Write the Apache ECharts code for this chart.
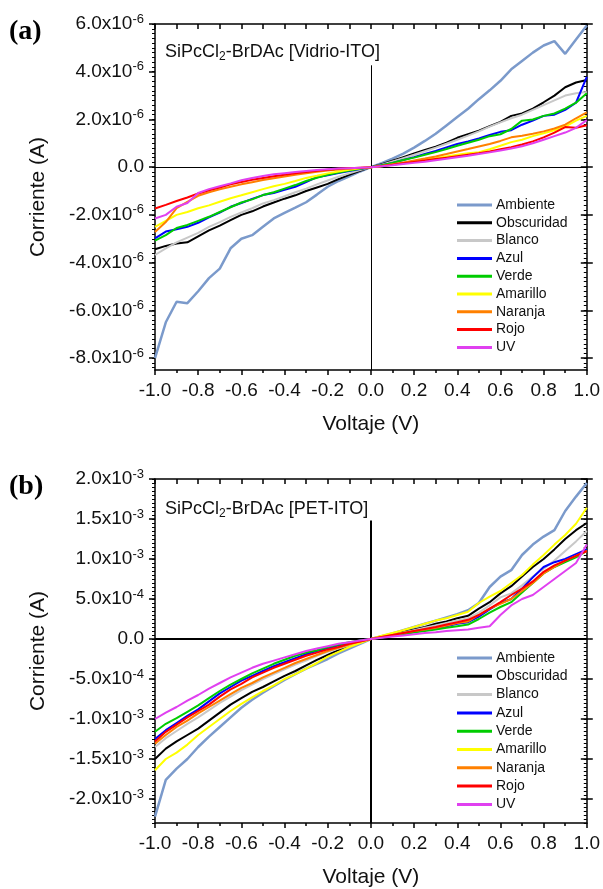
<!DOCTYPE html>
<html>
<head>
<meta charset="utf-8">
<script src="https://cdn.jsdelivr.net/npm/echarts@6/dist/echarts.min.js"></script>
<style>
  html, body { margin: 0; background: #fff; }
  #chart { width: 603px; height: 889px; }
</style>
</head>
<body>
<div id="chart"></div>
<script>
// voltaje (V)
const voltaje = [-1.0, -0.95, -0.9, -0.85, -0.8, -0.75, -0.7, -0.65, -0.6, -0.55, -0.5, -0.45, -0.4, -0.35, -0.3, -0.25, -0.2, -0.15, -0.1, -0.05,
  0, 0.05, 0.1, 0.15, 0.2, 0.25, 0.3, 0.35, 0.4, 0.45, 0.5, 0.55, 0.6, 0.65, 0.7, 0.75, 0.8, 0.85, 0.9, 0.95, 1.0];

// (a) Vidrio-ITO, corriente en unidades de 1e-6 A
const ambienteA = [-8.0, -6.5, -5.64, -5.7, -5.2, -4.65, -4.25, -3.4, -3.0, -2.85, -2.5, -2.15, -1.92, -1.7, -1.47, -1.15, -0.82, -0.58, -0.38, -0.18,
  0, 0.17, 0.36, 0.57, 0.82, 1.1, 1.4, 1.75, 2.1, 2.45, 2.85, 3.22, 3.62, 4.1, 4.45, 4.8, 5.1, 5.28, 4.75, 5.35, 5.94];
const obscuridadA = [-3.44, -3.3, -3.2, -3.15, -2.9, -2.65, -2.45, -2.22, -2.0, -1.85, -1.65, -1.48, -1.32, -1.18, -1.0, -0.85, -0.7, -0.5, -0.32, -0.15,
  0, 0.12, 0.27, 0.42, 0.57, 0.72, 0.86, 1.03, 1.23, 1.38, 1.53, 1.72, 1.9, 2.15, 2.25, 2.45, 2.72, 3.0, 3.35, 3.55, 3.65];
const blancoA = [-3.68, -3.4, -3.15, -2.95, -2.75, -2.5, -2.3, -2.08, -1.9, -1.72, -1.52, -1.38, -1.22, -1.05, -0.9, -0.72, -0.56, -0.4, -0.26, -0.12,
  0, 0.1, 0.24, 0.38, 0.52, 0.67, 0.82, 0.98, 1.15, 1.32, 1.5, 1.7, 1.88, 2.05, 2.2, 2.4, 2.6, 2.8, 3.0, 3.1, 3.15];
const azulA = [-2.98, -2.7, -2.6, -2.5, -2.33, -2.1, -1.9, -1.66, -1.5, -1.33, -1.17, -1.08, -0.95, -0.82, -0.62, -0.42, -0.34, -0.25, -0.16, -0.08,
  0, 0.08, 0.18, 0.3, 0.42, 0.55, 0.68, 0.83, 0.97, 1.08, 1.2, 1.35, 1.48, 1.55, 1.78, 1.95, 2.15, 2.2, 2.4, 2.7, 3.78];
const verdeA = [-3.08, -2.85, -2.55, -2.42, -2.25, -2.08, -1.88, -1.68, -1.48, -1.35, -1.17, -1.05, -0.9, -0.75, -0.58, -0.44, -0.32, -0.22, -0.14, -0.07,
  0, 0.08, 0.18, 0.3, 0.4, 0.52, 0.63, 0.76, 0.9, 1.02, 1.15, 1.3, 1.38, 1.6, 1.95, 2.0, 2.15, 2.25, 2.45, 2.7, 3.1];
const amarilloA = [-2.5, -2.25, -2.0, -1.88, -1.72, -1.6, -1.45, -1.3, -1.18, -1.05, -0.92, -0.8, -0.7, -0.58, -0.45, -0.36, -0.26, -0.18, -0.11, -0.05,
  0, 0.04, 0.1, 0.16, 0.23, 0.3, 0.37, 0.45, 0.52, 0.58, 0.63, 0.75, 0.9, 1.05, 1.15, 1.3, 1.42, 1.55, 1.7, 1.95, 2.15];
const naranjaA = [-2.72, -2.3, -1.72, -1.45, -1.2, -1.05, -0.93, -0.82, -0.72, -0.63, -0.54, -0.46, -0.39, -0.32, -0.25, -0.19, -0.14, -0.1, -0.06, -0.03,
  0, 0.05, 0.12, 0.2, 0.28, 0.36, 0.45, 0.55, 0.66, 0.76, 0.87, 0.97, 1.1, 1.25, 1.32, 1.4, 1.5, 1.62, 1.78, 2.05, 2.3];
const rojoA = [-1.73, -1.58, -1.42, -1.27, -1.1, -0.97, -0.85, -0.72, -0.62, -0.53, -0.45, -0.38, -0.32, -0.26, -0.2, -0.15, -0.11, -0.07, -0.04, -0.02,
  0, 0.05, 0.1, 0.16, 0.22, 0.28, 0.34, 0.4, 0.46, 0.52, 0.58, 0.66, 0.75, 0.84, 0.95, 1.08, 1.25, 1.45, 1.68, 1.65, 1.76];
const uvA = [-2.15, -2.0, -1.66, -1.5, -1.08, -0.92, -0.8, -0.68, -0.55, -0.45, -0.37, -0.3, -0.25, -0.2, -0.16, -0.12, -0.09, -0.06, -0.04, -0.02,
  0, 0.04, 0.08, 0.13, 0.18, 0.23, 0.29, 0.35, 0.42, 0.48, 0.55, 0.62, 0.7, 0.78, 0.88, 1.0, 1.15, 1.3, 1.45, 1.65, 1.97];

// (b) PET-ITO, corriente en unidades de 1e-3 A
const ambienteB = [-2.22, -1.76, -1.62, -1.5, -1.35, -1.22, -1.1, -0.98, -0.86, -0.76, -0.67, -0.59, -0.51, -0.44, -0.37, -0.31, -0.25, -0.18, -0.12, -0.06,
  0, 0.035, 0.07, 0.11, 0.15, 0.19, 0.23, 0.27, 0.31, 0.36, 0.45, 0.65, 0.78, 0.86, 1.05, 1.18, 1.28, 1.36, 1.6, 1.78, 1.95];
const obscuridadB = [-1.5, -1.37, -1.28, -1.2, -1.12, -1.02, -0.92, -0.82, -0.74, -0.66, -0.6, -0.53, -0.46, -0.4, -0.33, -0.26, -0.2, -0.14, -0.09, -0.04,
  0, 0.03, 0.06, 0.09, 0.12, 0.15, 0.19, 0.22, 0.26, 0.29, 0.38, 0.46, 0.57, 0.66, 0.78, 0.9, 1.0, 1.12, 1.25, 1.36, 1.45];
const blancoB = [-1.35, -1.24, -1.15, -1.06, -0.98, -0.89, -0.8, -0.72, -0.64, -0.57, -0.5, -0.44, -0.38, -0.32, -0.27, -0.21, -0.16, -0.12, -0.08, -0.04,
  0, 0.03, 0.055, 0.08, 0.11, 0.14, 0.17, 0.2, 0.23, 0.26, 0.33, 0.42, 0.52, 0.57, 0.67, 0.78, 0.88, 0.98, 1.1, 1.22, 1.35];
const azulB = [-1.25, -1.14, -1.05, -0.96, -0.88, -0.78, -0.68, -0.6, -0.52, -0.46, -0.4, -0.34, -0.29, -0.24, -0.19, -0.15, -0.12, -0.08, -0.05, -0.02,
  0, 0.02, 0.045, 0.07, 0.09, 0.11, 0.13, 0.16, 0.19, 0.21, 0.28, 0.37, 0.45, 0.5, 0.63, 0.77, 0.9, 0.96, 1.0, 1.06, 1.12];
const verdeB = [-1.16, -1.06, -0.99, -0.91, -0.83, -0.74, -0.65, -0.57, -0.5, -0.43, -0.37, -0.31, -0.26, -0.21, -0.17, -0.14, -0.1, -0.07, -0.04, -0.02,
  0, 0.02, 0.04, 0.06, 0.08, 0.1, 0.12, 0.14, 0.16, 0.18, 0.25, 0.33, 0.4, 0.46, 0.58, 0.7, 0.82, 0.9, 0.96, 1.02, 1.1];
const amarilloB = [-1.64, -1.5, -1.42, -1.32, -1.2, -1.1, -1.0, -0.9, -0.81, -0.73, -0.65, -0.58, -0.5, -0.44, -0.37, -0.3, -0.22, -0.16, -0.1, -0.05,
  0, 0.04, 0.075, 0.11, 0.15, 0.19, 0.23, 0.26, 0.3, 0.34, 0.45, 0.53, 0.6, 0.7, 0.8, 0.93, 1.05, 1.18, 1.3, 1.44, 1.64];
const naranjaB = [-1.31, -1.2, -1.1, -1.02, -0.93, -0.85, -0.77, -0.69, -0.61, -0.55, -0.48, -0.42, -0.36, -0.3, -0.25, -0.2, -0.15, -0.11, -0.07, -0.03,
  0, 0.025, 0.05, 0.075, 0.1, 0.12, 0.14, 0.17, 0.2, 0.22, 0.3, 0.38, 0.44, 0.5, 0.6, 0.7, 0.82, 0.9, 0.98, 1.04, 1.1];
const rojoB = [-1.28, -1.16, -1.07, -0.98, -0.9, -0.82, -0.72, -0.63, -0.56, -0.48, -0.42, -0.36, -0.31, -0.26, -0.21, -0.17, -0.13, -0.1, -0.06, -0.03,
  0, 0.025, 0.05, 0.075, 0.1, 0.125, 0.15, 0.18, 0.21, 0.24, 0.3, 0.38, 0.46, 0.55, 0.63, 0.72, 0.84, 0.92, 0.98, 1.04, 1.1];
const uvB = [-1.0, -0.92, -0.85, -0.77, -0.7, -0.62, -0.55, -0.48, -0.42, -0.36, -0.31, -0.27, -0.23, -0.19, -0.15, -0.12, -0.09, -0.06, -0.04, -0.02,
  0, 0.015, 0.03, 0.045, 0.06, 0.075, 0.085, 0.1, 0.11, 0.12, 0.14, 0.16, 0.3, 0.42, 0.5, 0.55, 0.65, 0.75, 0.85, 0.95, 1.18];

const nombres = ["Ambiente", "Obscuridad", "Blanco", "Azul", "Verde", "Amarillo", "Naranja", "Rojo", "UV"];
const colores = ["#7b9acb", "#000000", "#c8c8c8", "#0000ff", "#00cc00", "#ffff00", "#ff8000", "#ff0000", "#e040f0"];
const datosA = [ambienteA, obscuridadA, blancoA, azulA, verdeA, amarilloA, naranjaA, rojoA, uvA];
const datosB = [ambienteB, obscuridadB, blancoB, azulB, verdeB, amarilloB, naranjaB, rojoB, uvB];

// etiquetas del eje y
const ticksA = [-8, -6, -4, -2, 0, 2, 4, 6];
const ticksB = [-2, -1.5, -1, -0.5, 0, 0.5, 1, 1.5, 2];

const fam = '"Liberation Sans", Arial, sans-serif';
const negro = "#000";

let menores = (min, max, paso) => {
  let out = [];
  for (let v = Math.ceil(min / paso - 1e-9); v * paso <= max + 1e-9; v++) out.push(+(v * paso).toFixed(4));
  return out;
};

let fmtA = (v) => {
  if (Math.abs(v) < 1e-9) return "{m|0.0}";
  return "{m|" + v.toFixed(1) + "x10}{e|-6}";
};
let fmtB = (v) => {
  if (Math.abs(v) < 1e-9) return "{m|0.0}";
  if (Math.abs(v) < 1) return "{m|" + (v * 10).toFixed(1) + "x10}{e|-4}";
  return "{m|" + v.toFixed(1) + "x10}{e|-3}";
};
const richY = {
  m: { fontSize: 19, fontFamily: fam, color: "#111" },
  e: { fontSize: 13, fontFamily: fam, color: "#111", padding: [0, 0, 10, 0] },
};

let ejesX = (g) => [
  {
    gridIndex: g, type: "value", position: "bottom", min: -1, max: 1, interval: 0.2,
    axisLine: { onZero: false, lineStyle: { color: negro, width: 1.5 } },
    axisTick: { inside: false, length: 5, lineStyle: { color: negro, width: 1.5 } },
    minorTick: { show: true, splitNumber: 2, length: 3, lineStyle: { color: negro, width: 1.5 } },
    splitLine: { show: false },
    axisLabel: {
      fontSize: 19, fontFamily: fam, color: "#111", margin: 11,
      formatter: (v) => (Math.abs(v) < 1e-9 ? "0.0" : v.toFixed(1)),
    },
    name: "Voltaje (V)", nameLocation: "middle", nameGap: 44,
    nameTextStyle: { fontSize: 21, fontFamily: fam, color: "#111" },
  },
  {
    gridIndex: g, type: "value", position: "top", min: -1, max: 1, interval: 0.1,
    axisLine: { onZero: false, lineStyle: { color: negro, width: 1.5 } },
    axisTick: { inside: true, length: 5, lineStyle: { color: negro, width: 1.5 } },
    splitLine: { show: false },
    axisLabel: { show: false },
  },
];

let ejesY = (g, min, max, ticks, paso, fmt) => {
  let base = {
    gridIndex: g, type: "value", min: min, max: max,
    splitLine: { show: false },
  };
  let minor = menores(min, max, paso);
  return [
    Object.assign({}, base, {
      position: "left",
      axisLine: { show: true, onZero: false, lineStyle: { color: negro, width: 1.5 } },
      axisTick: { show: true, inside: false, length: 6, customValues: ticks, lineStyle: { color: negro, width: 1.5 } },
      axisLabel: { customValues: ticks, formatter: fmt, rich: richY, margin: 11 },
      name: "Corriente (A)", nameLocation: "middle", nameGap: 106, nameRotate: 90,
      nameTextStyle: { fontSize: 21, fontFamily: fam, color: "#111" },
    }),
    Object.assign({}, base, {
      position: "left",
      axisLine: { show: false, onZero: false },
      axisTick: { show: true, inside: false, length: 3, customValues: minor, lineStyle: { color: negro, width: 1 } },
      axisLabel: { show: false },
    }),
    Object.assign({}, base, {
      position: "right",
      axisLine: { show: true, onZero: false, lineStyle: { color: negro, width: 1.5 } },
      axisTick: { show: true, inside: false, length: 6, customValues: ticks, lineStyle: { color: negro, width: 1.5 } },
      axisLabel: { show: false },
    }),
    Object.assign({}, base, {
      position: "right",
      axisLine: { show: false, onZero: false },
      axisTick: { show: true, inside: true, length: 6, customValues: ticks, lineStyle: { color: negro, width: 1.5 } },
      axisLabel: { show: false },
    }),
    Object.assign({}, base, {
      position: "right",
      axisLine: { show: false, onZero: false },
      axisTick: { show: true, inside: true, length: 3, customValues: minor, lineStyle: { color: negro, width: 1 } },
      axisLabel: { show: false },
    }),
  ];
};

let armarSeries = (datos, xi, yi, lineaCero, anchoCero) => {
  return datos.map((arr, i) => {
    let s = {
      type: "line",
      name: nombres[i],
      xAxisIndex: xi,
      yAxisIndex: yi,
      data: voltaje.map((v, k) => [v, arr[k]]),
      symbol: "none",
      lineStyle: { color: colores[i], width: i === 0 ? 2.5 : 2 },
      itemStyle: { color: colores[i] },
      z: 3 + i,
    };
    if (i === 0) {
      s.markLine = {
        silent: true,
        symbol: "none",
        animation: false,
        label: { show: false },
        lineStyle: { color: negro, type: "solid", width: anchoCero },
        data: [{ yAxis: 0 }, [{ coord: lineaCero[0] }, { coord: lineaCero[1] }]],
      };
    }
    return s;
  });
};

let leyenda = (top, gap) => ({
  orient: "vertical",
  left: 457,
  top: top,
  padding: 0,
  icon: "rect",
  itemWidth: 35,
  itemHeight: 3,
  itemGap: gap,
  data: nombres,
  textStyle: { fontSize: 14, fontFamily: fam, color: "#111", padding: [0, 0, 0, -1], lineHeight: 14 },
});

const richTit = {
  n: { fontSize: 18, fontFamily: fam, fontWeight: "normal", color: "#111" },
  s: { fontSize: 12, fontFamily: fam, fontWeight: "normal", color: "#111", padding: [9, 0, 0, 0] },
};
const serif = '"Liberation Serif", "Times New Roman", serif';

let option = {
  animation: false,
  backgroundColor: "#fff",
  title: [
    { text: "(a)", left: 4, top: 13, textStyle: { fontFamily: serif, fontWeight: "bold", fontSize: 28, color: negro } },
    { text: "(b)", left: 4, top: 468, textStyle: { fontFamily: serif, fontWeight: "bold", fontSize: 28, color: negro } },
    { text: "{n|SiPcCl}{s|2}{n|-BrDAc [Vidrio-ITO]}", left: 160, top: 37, textStyle: { fontWeight: "normal", rich: richTit } },
    { text: "{n|SiPcCl}{s|2}{n|-BrDAc [PET-ITO]}", left: 160, top: 494, textStyle: { fontWeight: "normal", rich: richTit } },
  ],
  legend: [leyenda(198, 3.8), leyenda(651, 4.3)],
  grid: [
    { left: 155, right: 16, top: 24, height: 346 },
    { left: 155, right: 16, top: 479, height: 346 },
  ],
  xAxis: [...ejesX(0), ...ejesX(1)],
  yAxis: [
    ...ejesY(0, -8.5, 6, ticksA, 0.2, fmtA),
    ...ejesY(1, -2.3, 2, ticksB, 0.05, fmtB),
  ],
  series: [
    ...armarSeries(datosA, 0, 0, [[0, 4.27], [0, -8.5]], 1),
    ...armarSeries(datosB, 2, 5, [[0, 1.48], [0, -2.3]], 2),
  ],
};

let chart = echarts.init(document.getElementById("chart"));
chart.setOption(option);
</script>
</body>
</html>
